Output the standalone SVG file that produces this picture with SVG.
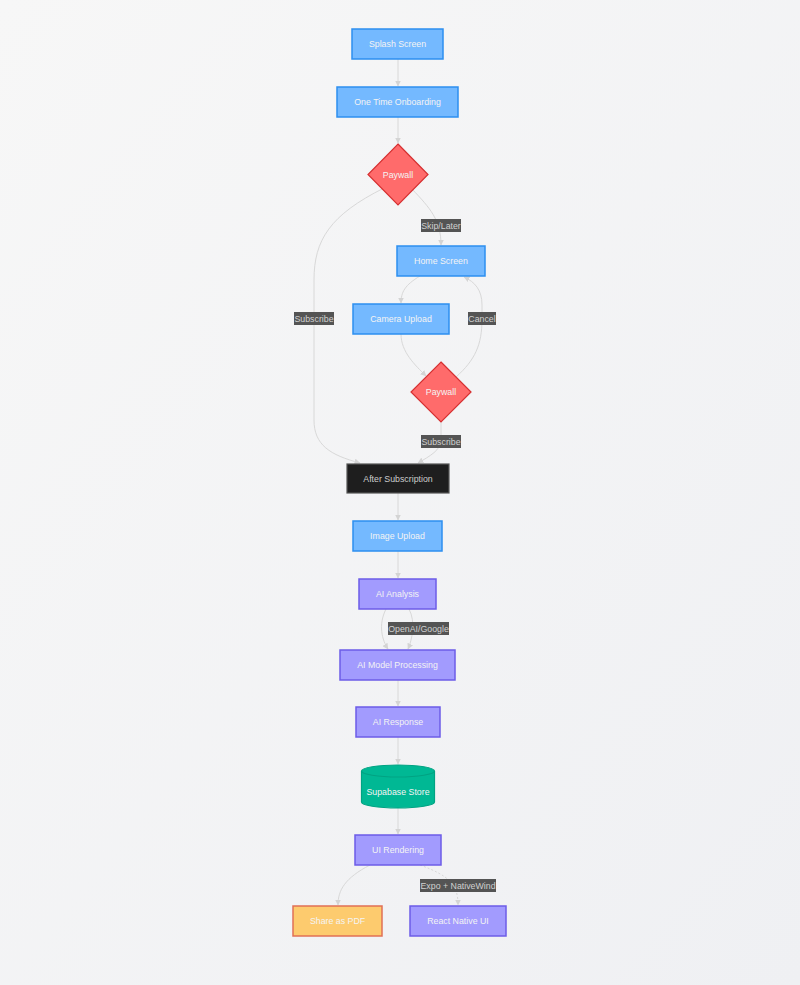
<svg xmlns="http://www.w3.org/2000/svg" width="800" height="985" viewBox="0 0 800 985">
<defs>
<radialGradient id="bg" cx="0.5" cy="0.5" r="0.8">
<stop offset="0" stop-color="#f3f3f4"/>
<stop offset="1" stop-color="#f1f2f4"/>
</radialGradient>
<linearGradient id="bg2" x1="0" y1="0" x2="1" y2="1">
<stop offset="0" stop-color="#f7f7f7"/>
<stop offset="1" stop-color="#eff0f3"/>
</linearGradient>
<marker id="arr" viewBox="0 0 6 6" refX="5.5" refY="3" markerWidth="6" markerHeight="6" markerUnits="userSpaceOnUse" orient="auto">
<path d="M0,0 L6,3 L0,6 z" fill="#d4d4d4"/>
</marker>
</defs>
<style>
text{font-family:"Liberation Sans",Arial,sans-serif;font-size:8.8px;text-anchor:middle;dominant-baseline:central}
.blue{fill:#74b9ff;stroke:#2d8ff0;stroke-width:1.5}
.red{fill:#ff6b6b;stroke:#d63031;stroke-width:1.2}
.purple{fill:#a29bfe;stroke:#6c5ce7;stroke-width:1.5}
.dark{fill:#1e1e1e;stroke:#555;stroke-width:1.2}
.green{fill:#00b894;stroke:#00a383;stroke-width:1.2}
.yellow{fill:#fdcb6e;stroke:#e17055;stroke-width:1.5}
.nt{fill:#f4f4f4}
.dt{fill:#cccccc}
.e{fill:none;stroke:#d8d8d8;stroke-width:1;marker-end:url(#arr)}
.dot{stroke-dasharray:2 2}
.lb{fill:#545454}
.lt{fill:#d0d0d0}
</style>
<rect width="800" height="985" fill="url(#bg2)"/>
<g id="connectors">
<path class="e" d="M398,59 L398,86"/>
<path class="e" d="M398,117 L398,143"/>
<path class="e" d="M412,189 C430,208 441,220 441,245"/>
<path class="e" d="M384,188 C330,215 314,240 314,280 L314,420 C314,445 330,455 360,463"/>
<path class="e" d="M420,276 C405,285 401,292 401,303"/>
<path class="e" d="M401,334 C401,352 415,365 426,376"/>
<path class="e" d="M456,377 C475,360 482,345 482,319 L482,305 C482,290 475,282 464,277"/>
<path class="e" d="M441,422 L441,440 C441,450 430,456 418,463"/>
<path class="e" d="M398,493 L398,520"/>
<path class="e" d="M398,551 L398,578"/>
<path class="e" d="M386,609 C378,625 382,640 388,649"/>
<path class="e" d="M409,609 C416,622 412,640 408,649"/>
<path class="e" d="M398,680 L398,706"/>
<path class="e" d="M398,737 L398,764"/>
<path class="e" d="M398,808 L398,834"/>
<path class="e" d="M370,865 C345,878 338,890 338,905"/>
<path class="e dot" d="M420,865 C450,876 458,885 458,905"/>
<g id="edge-labels">
<rect class="lb" x="421" y="219" width="40" height="13"/><text class="lt" x="441" y="226">Skip/Later</text>
<rect class="lb" x="294" y="312" width="40" height="13"/><text class="lt" x="314" y="319">Subscribe</text>
<rect class="lb" x="468" y="312" width="28" height="13"/><text class="lt" x="482" y="319">Cancel</text>
<rect class="lb" x="421" y="435" width="40" height="13"/><text class="lt" x="441" y="442">Subscribe</text>
<rect class="lb" x="388" y="622" width="61" height="13"/><text class="lt" x="418.5" y="629">OpenAI/Google</text>
<rect class="lb" x="420" y="879" width="76" height="13"/><text class="lt" x="458" y="886">Expo + NativeWind</text>
</g>
</g>
<g id="splash"><rect class="blue" x="352" y="29" width="91" height="30"/><text class="nt" x="397.5" y="44">Splash Screen</text></g>
<g id="onboarding"><rect class="blue" x="337" y="87" width="121" height="30"/><text class="nt" x="397.5" y="102">One Time Onboarding</text></g>
<g id="paywall1"><polygon class="red" points="398,144 428,174.5 398,205 368,174.5"/><text class="nt" x="398" y="174.5">Paywall</text></g>
<g id="home"><rect class="blue" x="397" y="246" width="88" height="30"/><text class="nt" x="441" y="261">Home Screen</text></g>
<g id="camera"><rect class="blue" x="353" y="304" width="96" height="30"/><text class="nt" x="401" y="319">Camera Upload</text></g>
<g id="paywall2"><polygon class="red" points="441,362 471,392 441,422 411,392"/><text class="nt" x="441" y="392">Paywall</text></g>
<g id="after"><rect class="dark" x="347" y="464" width="102" height="29"/><text class="dt" x="398" y="478.5">After Subscription</text></g>
<g id="imageupload"><rect class="blue" x="353" y="521" width="89" height="30"/><text class="nt" x="397.5" y="536">Image Upload</text></g>
<g id="aianalysis"><rect class="purple" x="359" y="579" width="77" height="30"/><text class="nt" x="397.5" y="594">AI Analysis</text></g>
<g id="aimodel"><rect class="purple" x="340" y="650" width="115" height="30"/><text class="nt" x="397.5" y="665">AI Model Processing</text></g>
<g id="airesponse"><rect class="purple" x="356" y="707" width="84" height="30"/><text class="nt" x="398" y="722">AI Response</text></g>
<g id="supabase"><path class="green" d="M361.5,771 A36.5,6 0 0 1 434.5,771 L434.5,802 A36.5,6 0 0 1 361.5,802 Z"/><path d="M361.5,771 A36.5,6 0 0 0 434.5,771" fill="none" stroke="#00a383" stroke-width="1.2"/><text class="nt" x="398" y="791.5">Supabase Store</text></g>
<g id="uirendering"><rect class="purple" x="355" y="835" width="86" height="30"/><text class="nt" x="398" y="850">UI Rendering</text></g>
<g id="sharepdf"><rect class="yellow" x="293" y="906" width="89" height="30"/><text class="nt" x="337.5" y="921">Share as PDF</text></g>
<g id="reactnative"><rect class="purple" x="410" y="906" width="96" height="30"/><text class="nt" x="458" y="921">React Native UI</text></g>
</svg>
